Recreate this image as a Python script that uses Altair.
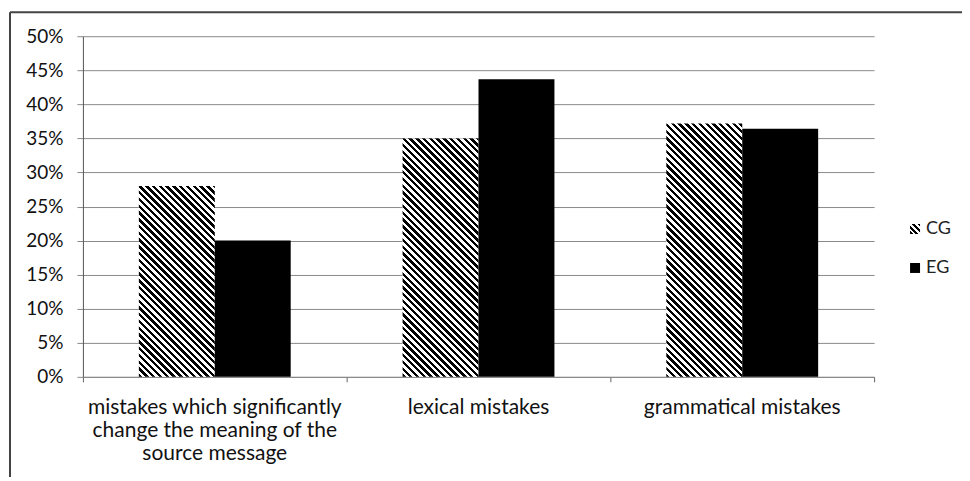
import json
import math
import altair as alt
import pandas as pd

# ---- data ----
categories = [
    "mistakes which significantly change the meaning of the source message",
    "lexical mistakes",
    "grammatical mistakes",
]
category_lines = [
    ["mistakes which significantly", "change the meaning of the", "source message"],
    ["lexical mistakes"],
    ["grammatical mistakes"],
]
groups = ["CG", "EG"]
cg_values = [28.0, 35.0, 37.2]
eg_values = [20.0, 43.7, 36.4]
y_ticks = [0, 5, 10, 15, 20, 25, 30, 35, 40, 45, 50]

# ---- layout ----
W, H = 792, 341
Y_MAX = 50
STEP = W / len(categories)
BAR_W = 76
OFF_PAD = (STEP / BAR_W - 2) / 2
FONT = "Lato"

rows = []
for c, v in zip(categories, cg_values):
    rows.append({"category": c, "group": "CG", "value": v})
for c, v in zip(categories, eg_values):
    rows.append({"category": c, "group": "EG", "value": v})
df = pd.DataFrame(rows)


def hatch(w, h, period=4.8):
    """Diagonal '\\' stripes as a bbox-relative linear gradient."""
    r = h / w
    k = (1 + r) / (1 + r * r)
    n = ((w + h) / math.sqrt(2)) / period
    stops = []
    i = 0
    while True:
        a = i / n
        b = (i + 0.5) / n
        c = (i + 1) / n
        if a >= 1:
            break
        stops += [{"offset": round(a, 5), "color": "black"},
                  {"offset": round(min(b, 1), 5), "color": "black"}]
        if b < 1:
            stops += [{"offset": round(b, 5), "color": "white"},
                      {"offset": round(min(c, 1), 5), "color": "white"}]
        i += 1
    return {"gradient": "linear", "x1": 0, "y1": 1, "x2": round(k, 5),
            "y2": round(1 - k * r, 5), "stops": stops}


conditions = []
for c, v in zip(categories, cg_values):
    conditions.append({
        "test": f"datum.category === {c!r} && datum.group === 'CG'",
        "value": hatch(BAR_W, v / Y_MAX * H),
    })

legend_hatch = hatch(10, 10, period=4.2)

label_expr = ""
for c, lines in zip(categories, category_lines):
    arr = "[" + ",".join(repr(s) for s in lines) + "]"
    label_expr += f"datum.label === {c!r} ? {arr} : "
label_expr += "datum.label"

bars = alt.Chart(df).mark_bar().encode(
    x=alt.X(
        "category:N",
        sort=categories,
        scale=alt.Scale(paddingInner=0, paddingOuter=0),
        axis=alt.Axis(
            title=None, labelAngle=0, labelExpr=label_expr,
            labelFont=FONT, labelFontSize=21, labelColor="#111",
            labelLineHeight=23, labelPadding=15, labelLimit=0,
            bandPosition=1, tickExtra=True,
            tickSize=5, tickColor="#666", domainColor="#888",
            grid=False,
        ),
    ),
    xOffset=alt.XOffset(
        "group:N",
        scale=alt.Scale(domain=groups, paddingInner=0, paddingOuter=OFF_PAD),
    ),
    y=alt.Y(
        "value:Q",
        scale=alt.Scale(domain=[0, Y_MAX], nice=False),
        axis=alt.Axis(
            title=None, values=y_ticks, labelExpr="datum.value + '%'",
            labelFont=FONT, labelFontSize=19, labelColor="#111",
            labelPadding=14, tickSize=6, tickColor="#888",
            grid=True, gridColor="#8a8a8a", gridWidth=1,
            domainColor="#555",
        ),
    ),
    fill=alt.Fill(
        "group:N",
        scale=alt.Scale(domain=groups,
                        range=[alt.ExprRef(json.dumps(legend_hatch)), "#000000"]),
        legend=alt.Legend(
            title=None, orient="none", legendX=824, legendY=184,
            symbolType="square", symbolSize=100, symbolStrokeWidth=0,
            labelFont=FONT, labelFontSize=18, labelColor="#222",
            labelOffset=2, rowPadding=21, padding=0,
        ),
        condition=conditions,
    ),
)

frame_data = alt.Data(values=[{"k": 1}])
top_border = alt.Chart(frame_data).mark_rule(color="#444", strokeWidth=2).encode(
    x=alt.value(-73), x2=alt.value(900), y=alt.value(-24)
)
left_border = alt.Chart(frame_data).mark_rule(color="#444", strokeWidth=2).encode(
    x=alt.value(-73), y=alt.value(-24), y2=alt.value(445)
)

chart = alt.layer(bars, top_border, left_border).properties(
    width=W, height=H,
    padding={"left": 75, "top": 28, "right": 88, "bottom": 100},
    autosize=alt.AutoSizeParams(type="none"),
    background="white",
).configure_view(stroke=None)

chart.save("out.html", embed_options={"renderer": "svg", "actions": False})
